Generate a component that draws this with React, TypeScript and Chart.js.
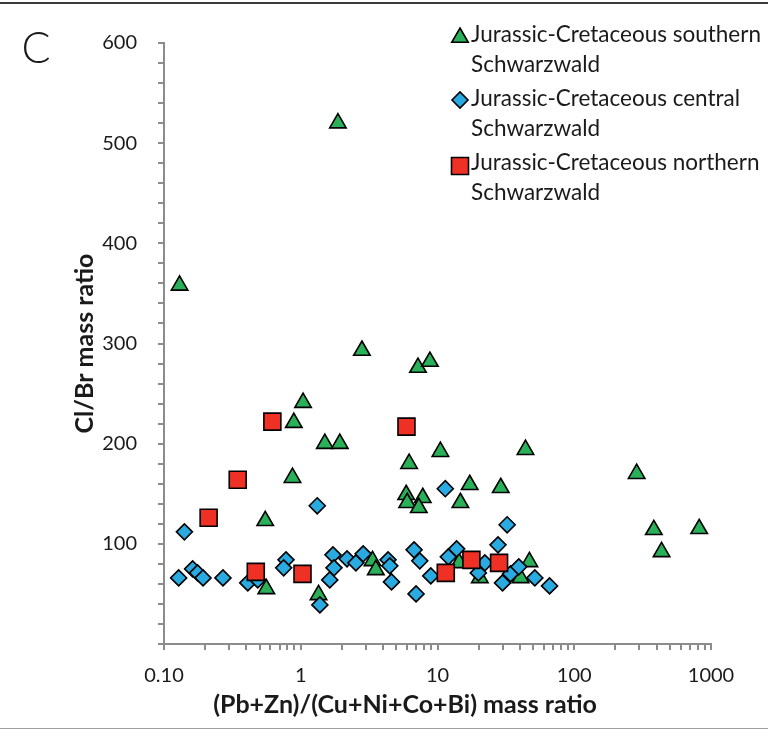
import { useEffect, useRef } from 'react';
import { Chart, registerables } from 'chart.js';

Chart.register(...registerables);

// Jurassic-Cretaceous southern Schwarzwald
const southernX = [0.13, 1.87, 2.8, 7.2, 8.8, 1.04, 0.89, 1.5, 1.93, 0.87, 0.55, 0.56, 1.35, 10.5, 6.2, 17.2, 29, 5.9, 6.0, 7.8, 7.3, 14.7, 44, 286, 382, 820, 435, 3.35, 3.54, 14.4, 20.4, 47, 40.5];
const southernY = [358, 520, 293, 276, 282, 241, 221, 200, 200, 166, 123, 55, 49, 192, 180, 159, 156, 149, 141, 146, 136, 141, 194, 170, 114, 115, 92, 83, 74, 81, 66, 82, 66];

// Jurassic-Cretaceous central Schwarzwald
const centralX = [0.141, 1.32, 0.128, 0.162, 0.176, 0.193, 0.27, 0.41, 0.485, 0.78, 0.75, 1.38, 1.72, 1.75, 1.63, 2.18, 2.53, 2.86, 4.35, 4.48, 4.61, 6.74, 7.42, 6.97, 8.93, 11.4, 12.0, 13.8, 19.9, 22.2, 27.7, 32.3, 29.9, 34.2, 39.3, 51.5, 66];
const centralY = [112, 138, 66, 75, 71, 66, 66, 61, 64, 84, 76, 39, 89, 76, 64, 85, 81, 90, 84, 78, 62, 94, 83, 50, 68, 155, 87, 95, 71, 81, 99, 119, 61, 70, 77, 66, 58];

// Jurassic-Cretaceous northern Schwarzwald
const northernX = [0.62, 0.346, 0.212, 0.469, 1.03, 5.93, 11.5, 17.7, 28.2];
const northernY = [222, 164, 126, 72, 70, 217, 71, 84, 81];

const seriesLabels = [
  ['Jurassic-Cretaceous southern', 'Schwarzwald'],
  ['Jurassic-Cretaceous central', 'Schwarzwald'],
  ['Jurassic-Cretaceous northern', 'Schwarzwald'],
];
const seriesColors = ['#2BB05A', '#29ABE2', '#EE3124'];
const seriesShapes = ['triangle', 'rectRot', 'rect'];

const xMajorTicks = [0.1, 1, 10, 100, 1000];
const xTickLabels = ['0.10', '1', '10', '100', '1000'];
const yLabelledTicks = [100, 200, 300, 400, 500, 600];

const xTitle = '(Pb+Zn)/(Cu+Ni+Co+Bi) mass ratio';
const yTitle = 'Cl/Br mass ratio';
const panelLetter = 'C';

const FONT = 'Lato, "Open Sans", sans-serif';
const AXIS_GREY = '#8c8c8c';
const TEXT = '#1a1a1a';

const zip = (xs: number[], ys: number[]) => xs.map((x, i) => ({ x, y: ys[i] }));

function drawMarker(ctx: CanvasRenderingContext2D, shape: string, x: number, y: number, fill: string) {
  ctx.beginPath();
  if (shape === 'triangle') {
    const r = 9.5;
    ctx.moveTo(x, y - r);
    ctx.lineTo(x + r * Math.sin((2 * Math.PI) / 3), y + r / 2);
    ctx.lineTo(x - r * Math.sin((2 * Math.PI) / 3), y + r / 2);
  } else if (shape === 'rectRot') {
    const r = 8;
    ctx.moveTo(x - r, y);
    ctx.lineTo(x, y - r);
    ctx.lineTo(x + r, y);
    ctx.lineTo(x, y + r);
  } else {
    const s = 8.5;
    ctx.rect(x - s, y - s, 2 * s, 2 * s);
  }
  ctx.closePath();
  ctx.fillStyle = fill;
  ctx.fill();
  ctx.lineWidth = 1.6;
  ctx.strokeStyle = '#000';
  ctx.stroke();
}

const legendMarkerY = [37.5, 100, 166];

const figureDecor = {
  id: 'figureDecor',
  afterDraw(chart: any) {
    const ctx: CanvasRenderingContext2D = chart.ctx;
    const area = chart.chartArea;
    ctx.save();

    // frame rules
    ctx.fillStyle = '#3a3a3a';
    ctx.fillRect(0, 2, chart.width, 2);
    ctx.fillStyle = '#a0a0a0';
    ctx.fillRect(0, 728, chart.width, 1);

    // panel letter
    ctx.fillStyle = TEXT;
    ctx.font = `300 43px ${FONT}`;
    ctx.textAlign = 'center';
    ctx.textBaseline = 'middle';
    ctx.fillText(panelLetter, 36, 49);

    // axis titles
    ctx.font = `bold 25px ${FONT}`;
    ctx.textBaseline = 'middle';
    ctx.fillText(xTitle, 405, 705);
    ctx.save();
    ctx.translate(85, (area.top + area.bottom) / 2);
    ctx.rotate(-Math.PI / 2);
    ctx.fillText(yTitle, 0, 0);
    ctx.restore();

    // legend
    ctx.font = `22.5px ${FONT}`;
    ctx.textAlign = 'left';
    ctx.textBaseline = 'alphabetic';
    seriesLabels.forEach((lines, i) => {
      const base = 41.7 + i * 64.3;
      drawMarker(ctx, seriesShapes[i], 460, legendMarkerY[i], seriesColors[i]);
      ctx.fillStyle = TEXT;
      lines.forEach((line, j) => ctx.fillText(line, 471, base + j * 30));
    });

    ctx.restore();
  },
};

export default function App() {
  const canvasRef = useRef<HTMLCanvasElement | null>(null);

  useEffect(() => {
    const canvas = canvasRef.current;
    if (!canvas) return;

    const makeSet = (i: number, data: { x: number; y: number }[], radius: number, order: number) => ({
      label: seriesLabels[i].join(' '),
      data,
      pointStyle: seriesShapes[i],
      pointRadius: radius,
      pointHoverRadius: radius,
      pointBackgroundColor: seriesColors[i],
      pointBorderColor: '#000',
      pointBorderWidth: 1.6,
      showLine: false,
      order,
    });

    const minorTicks: number[] = [];
    xMajorTicks.forEach((d, k) => {
      if (k === xMajorTicks.length - 1) {
        minorTicks.push(d);
        return;
      }
      for (let m = 1; m <= 9; m++) minorTicks.push(+(d * m).toPrecision(6));
    });

    const chart = new Chart(canvas, {
      type: 'scatter',
      data: {
        datasets: [
          makeSet(0, zip(southernX, southernY), 9.5, 3),
          makeSet(1, zip(centralX, centralY), 8, 2),
          makeSet(2, zip(northernX, northernY), 12, 1),
        ],
      },
      plugins: [figureDecor],
      options: {
        responsive: false,
        maintainAspectRatio: false,
        devicePixelRatio: 1,
        animation: false,
        layout: { padding: { top: 43, right: 57, left: 0, bottom: 0 } },
        plugins: {
          legend: { display: false },
          tooltip: { enabled: false },
        },
        scales: {
          x: {
            type: 'logarithmic',
            min: 0.1,
            max: 1000,
            afterBuildTicks: (scale: any) => {
              scale.ticks = minorTicks.map((value) => ({ value }));
            },
            afterFit: (scale: any) => {
              scale.height = 86;
            },
            grid: { drawOnChartArea: false, drawTicks: true, tickLength: 6, color: AXIS_GREY, lineWidth: 2 },
            border: { display: true, color: AXIS_GREY, width: 2 },
            ticks: {
              autoSkip: false,
              maxRotation: 0,
              padding: 14,
              color: TEXT,
              font: { family: FONT, size: 20 },
              callback: (v: any) => {
                const idx = xMajorTicks.findIndex((t) => Math.abs(t - Number(v)) < 1e-9);
                return idx >= 0 ? xTickLabels[idx] : '';
              },
            },
          },
          y: {
            type: 'linear',
            min: 0,
            max: 600,
            afterFit: (scale: any) => {
              scale.width = 164;
            },
            grid: { drawOnChartArea: false, drawTicks: true, tickLength: 6, color: AXIS_GREY, lineWidth: 2 },
            border: { display: true, color: AXIS_GREY, width: 2 },
            ticks: {
              stepSize: 20,
              autoSkip: false,
              padding: 21,
              color: TEXT,
              font: { family: FONT, size: 20 },
              callback: (v: any) => (yLabelledTicks.includes(Number(v)) ? String(v) : ''),
            },
          },
        },
      },
    } as any);

    return () => chart.destroy();
  }, []);

  return (
    <div style={{ position: 'absolute', left: 0, top: 0, width: 768, height: 730, background: '#fff' }}>
      <canvas ref={canvasRef} width={768} height={730} style={{ display: 'block', width: 768, height: 730 }} />
    </div>
  );
}
